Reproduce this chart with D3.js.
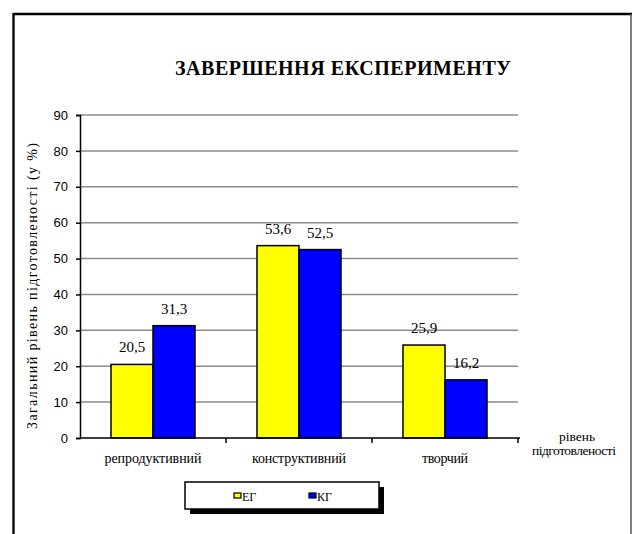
<!DOCTYPE html>
<html>
<head>
<meta charset="utf-8">
<script src="https://cdn.jsdelivr.net/npm/d3@7"></script>
<style>
body { margin: 0; background: #fff; }
svg { display: block; }
</style>
</head>
<body>
<svg id="chart" width="632" height="534"></svg>
<script>
// categories and series
var categories = ["репродуктивний", "конструктивний", "творчий"];
var seriesNames = ["ЕГ", "КГ"];
var egValues = [20.5, 53.6, 25.9];
var kgValues = [31.3, 52.5, 16.2];
var yTicks = [0, 10, 20, 30, 40, 50, 60, 70, 80, 90];
var colors = ["#ffff00", "#0000ff"];

var SERIF = "'Liberation Serif', 'FreeSerif', 'Tinos', monospace";
var SANS = "'Liberation Sans', 'Arimo', monospace";

var svg = d3.select("#chart");
var pLeft = 80, pRight = 518, pTop = 115, pBottom = 438;

// serif text helper, optional stretched width
function serifText(parent, xx, yy, size, label, extra, len) {
	var t = parent.append("text")
		.attr("transform", "translate(" + xx + "," + yy + ")" + (extra || ""))
		.style("font-family", SERIF)
		.attr("font-size", size)
		.attr("text-anchor", "middle")
		.text(label);
	if (len) t.attr("textLength", len).attr("lengthAdjust", "spacing");
	return t;
}

// outer frame
svg.append("line").attr("x1", 13).attr("y1", 14).attr("x2", 632).attr("y2", 14)
	.attr("stroke", "#000").attr("stroke-width", 2.5);
svg.append("line").attr("x1", 13.5).attr("y1", 13).attr("x2", 13.5).attr("y2", 534)
	.attr("stroke", "#111").attr("stroke-width", 2.5);
svg.append("line").attr("x1", 631).attr("y1", 14).attr("x2", 631).attr("y2", 534)
	.attr("stroke", "#555").attr("stroke-width", 1.5);

var x = d3.scaleBand().domain(categories).range([pLeft, pRight]);
var y = d3.scaleLinear().domain([0, 90]).range([pBottom, pTop]);
var sub = d3.scaleBand().domain(seriesNames).range([0, 84]);

// gridlines
svg.append("g").selectAll("line").data(yTicks.slice(1)).enter().append("line")
	.attr("x1", pLeft).attr("x2", pRight)
	.attr("y1", function(d) { return y(d); }).attr("y2", function(d) { return y(d); })
	.attr("stroke", "#8c8c8c").attr("stroke-width", 1.5);

// y axis
var yAxis = svg.append("g").attr("transform", "translate(" + pLeft + ",0)")
	.call(d3.axisLeft(y).tickValues(yTicks).tickSize(4).tickPadding(8));
yAxis.attr("font-family", null);
yAxis.select(".domain").attr("stroke-width", 1.5);
yAxis.selectAll(".tick line").attr("stroke-width", 1.5);
yAxis.selectAll("text").style("font-family", SANS)
	.attr("font-size", 13).attr("fill", "#000");

// bars
var rows = categories.map(function(c, i) {
	return [{ cat: c, s: "ЕГ", v: egValues[i] }, { cat: c, s: "КГ", v: kgValues[i] }];
});
var groups = svg.append("g").selectAll("g").data(rows).enter().append("g")
	.attr("transform", function(d) { return "translate(" + (x(d[0].cat) + (x.bandwidth() - 84) / 2) + ",0)"; });

groups.selectAll("rect").data(function(d) { return d; }).enter().append("rect")
	.attr("x", function(d) { return sub(d.s); })
	.attr("width", sub.bandwidth())
	.attr("y", function(d) { return y(d.v); })
	.attr("height", function(d) { return pBottom - y(d.v); })
	.attr("fill", function(d, i) { return colors[i]; })
	.attr("stroke", "#000").attr("stroke-width", 1.5);

groups.each(function(row) {
	var g = d3.select(this);
	row.forEach(function(d) {
		serifText(g, sub(d.s) + sub.bandwidth() / 2, y(d.v) - 12, 15, String(d.v).replace(".", ","));
	});
});

// x axis
var xAxis = svg.append("g").attr("transform", "translate(0," + pBottom + ")");
xAxis.append("line").attr("x1", pLeft).attr("x2", pRight + 2).attr("y1", 0).attr("y2", 0)
	.attr("stroke", "#000").attr("stroke-width", 1.5);
var xTicks = [x(categories[1]), x(categories[2]), pRight];
xAxis.selectAll("line.tk").data(xTicks).enter().append("line")
	.attr("class", "tk")
	.attr("x1", function(d) { return d; }).attr("x2", function(d) { return d; })
	.attr("y1", 0).attr("y2", 5)
	.attr("stroke", "#000").attr("stroke-width", 1.5);
var xLabelWidths = [97, 94, 46];
categories.forEach(function(c, i) {
	serifText(xAxis, x(c) + x.bandwidth() / 2, 25, 14, c, "", xLabelWidths[i]);
});

// axis titles
serifText(svg, 37, 286, 14, "Загальний рівень підготовленості (у %)", " rotate(-90)", 286);
serifText(svg, 577, 441, 13.5, "рівень");
serifText(svg, 574, 455, 13.5, "підготовленості", "", 84);

// title
serifText(svg, 343, 75, 20, "ЗАВЕРШЕННЯ  ЕКСПЕРИМЕНТУ", "", 336).attr("font-weight", "bold");

// legend
var legend = svg.append("g").attr("transform", "translate(185,482)");
legend.append("rect").attr("x", 5).attr("y", 5).attr("width", 194).attr("height", 27).attr("fill", "#000");
legend.append("rect").attr("width", 194).attr("height", 27)
	.attr("fill", "#fff").attr("stroke", "#000").attr("stroke-width", 1.5);
var items = legend.selectAll("g").data(seriesNames).enter().append("g")
	.attr("transform", function(d, i) { return "translate(" + (49 + i * 75) + ",0)"; });
items.append("rect").attr("x", 0).attr("y", 11).attr("width", 7).attr("height", 5)
	.attr("fill", function(d, i) { return colors[i]; })
	.attr("stroke", "#000").attr("stroke-width", 1.2);
items.each(function(d) {
	serifText(d3.select(this), 8, 19, 12, d).attr("text-anchor", "start");
});
</script>
</body>
</html>
